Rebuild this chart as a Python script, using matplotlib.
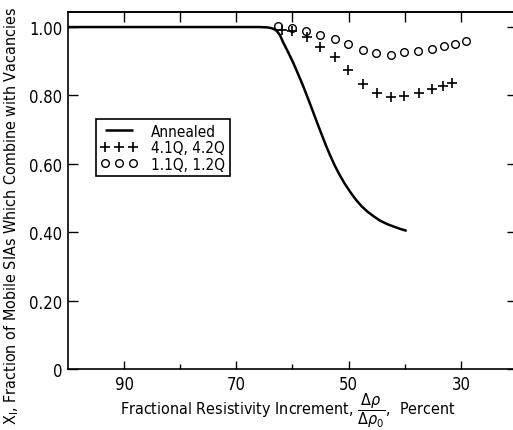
import matplotlib
matplotlib.use("Agg")
import matplotlib.pyplot as plt
from matplotlib.ticker import FixedLocator

plt.rcParams['font.family'] = ['DejaVu Sans']
plt.rcParams['font.stretch'] = 'condensed'
plt.rcParams['mathtext.fontset'] = 'dejavusans'

# annealed curve
anneal_x = [100, 66.0, 64.5, 63.8, 63.3, 62.83, 62.25, 61.66, 60.82, 59.88, 59.04, 58.09,
            57.26, 56.45, 55.65, 54.81, 54.05, 53.33, 52.44, 51.55, 50.66, 49.77,
            48.70, 47.63, 46.56, 45.49, 44.42, 43.17, 42.05, 40.86, 39.66]
anneal_y = [1.0, 1.0, 0.999, 0.997, 0.994, 0.989, 0.977, 0.955, 0.928, 0.896, 0.864, 0.827,
            0.792, 0.757, 0.722, 0.686, 0.654, 0.626, 0.594, 0.566, 0.541, 0.519,
            0.495, 0.475, 0.459, 0.446, 0.434, 0.424, 0.417, 0.410, 0.404]

# 4.1Q, 4.2Q
q4_x = [61.9, 60.1, 57.4, 55.1, 52.4, 50.1, 47.5, 45.0, 42.5, 40.1, 37.5, 35.1, 33.2, 31.6]
q4_y = [0.992, 0.989, 0.970, 0.943, 0.911, 0.874, 0.832, 0.808, 0.796, 0.798,
        0.808, 0.818, 0.827, 0.837]

# 1.1Q, 1.2Q
q1_x = [62.5, 60.1, 57.6, 55.1, 52.5, 50.1, 47.5, 45.1, 42.5, 40.1, 37.6, 35.1,
        33.0, 31.1, 29.0]
q1_y = [1.004, 0.997, 0.989, 0.976, 0.965, 0.949, 0.933, 0.924, 0.919, 0.926,
        0.929, 0.935, 0.944, 0.949, 0.958]

xticks = [90, 70, 50, 30]
xminor = [80, 60, 40]
xticks_top = [90, 80, 70, 60, 50, 40, 30]
yticks = [0, 0.2, 0.4, 0.6, 0.8, 1.0]
ytick_labels = ["0", "0.20", "0.40", "0.60", "0.80", "1.00"]

fig = plt.figure(figsize=(5.13, 4.31), dpi=100)
ax = fig.add_axes([68 / 513, 61 / 431, 449 / 513, 357 / 431])

ax.plot(anneal_x, anneal_y, color='k', lw=1.8, label='Annealed', solid_capstyle='butt')
ax.plot(q4_x, q4_y, ls='none', marker='+', ms=7, mew=1.2, color='k', label='4.1Q, 4.2Q')
ax.plot(q1_x, q1_y, ls='none', marker='o', ms=5.5, mew=1.0, mfc='none', mec='k',
        label='1.1Q, 1.2Q')

ax.set_xlim(100, 20)
ax.set_ylim(0, 1.044)

ax.set_xticks(xticks)
ax.xaxis.set_minor_locator(FixedLocator(xminor))
ax.set_yticks(yticks)
ax.set_yticklabels(ytick_labels)
ax.tick_params(axis='x', which='major', direction='in', length=5.5, width=1, labelsize=12, pad=4)
ax.tick_params(axis='x', which='minor', direction='in', length=3.5, width=1)
ax.tick_params(axis='y', which='major', direction='in', length=7, width=1, labelsize=12,
               pad=4, right=True)

top = ax.secondary_xaxis('top')
top.set_xticks(xticks_top)
top.tick_params(direction='in', length=7.5, width=1, labeltop=False)
top.spines['top'].set_linewidth(1.2)

for s in ax.spines.values():
    s.set_linewidth(1.2)

ax.set_xlabel(r"Fractional Resistivity Increment, $\dfrac{\Delta\rho}{\Delta\rho_0}$,  Percent",
              fontsize=11.5)
ax.xaxis.set_label_coords(0.49, -0.058)
ax.xaxis.label.set_va('top')
ax.set_ylabel(r"X$_\mathregular{I}$, Fraction of Mobile SIAs Which Combine with Vacancies",
              fontsize=11.5)
ax.yaxis.set_label_coords(-0.1247, 0.431)
ax.yaxis.label.set_va('center')

leg = ax.legend(loc='upper left', bbox_to_anchor=(28 / 449, (370 - 120) / 357),
                numpoints=3, handlelength=2.4, handletextpad=0.9, fontsize=11,
                fancybox=False, edgecolor='k', framealpha=1, borderpad=0.3,
                labelspacing=0.1, borderaxespad=0)
leg.get_frame().set_linewidth(1.2)

fig.savefig("out.png", dpi=100)
